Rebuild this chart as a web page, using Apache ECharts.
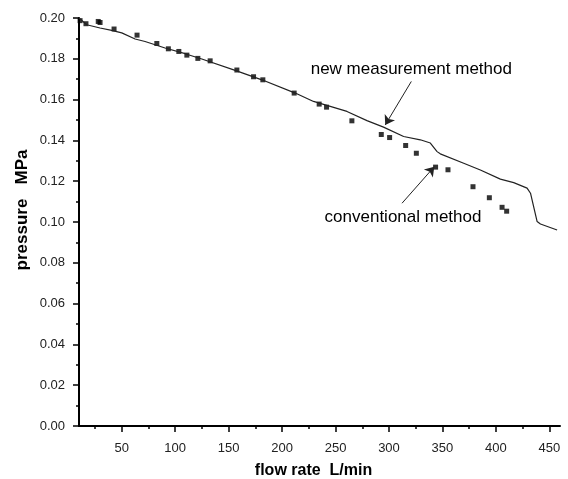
<!DOCTYPE html>
<html>
<head>
<meta charset="utf-8">
<script src="https://cdn.jsdelivr.net/npm/echarts@6/dist/echarts.min.js"></script>
<style>html,body{margin:0;padding:0;background:#fff}#c{width:568px;height:479px}</style>
</head>
<body>
<div id="c"></div>
<script>
// flow rate (L/min), pressure (MPa)
const newMethodFlow = [10, 17.2, 29.7, 40.6, 50, 62.5, 71.8, 81.2, 90.5, 109.3, 124.9, 156.1, 181.1, 212.3, 229.4, 260.7, 279.4, 294.9, 313.7, 329.3, 338.7, 345, 348, 369.9, 385.5, 404.2, 416.7, 429.2, 432.4, 438.6, 441.7, 457.3];
const newMethodPressure = [0.2000, 0.1967, 0.1951, 0.1939, 0.1927, 0.1897, 0.1885, 0.1869, 0.1853, 0.1825, 0.1799, 0.1743, 0.1697, 0.1632, 0.1591, 0.1542, 0.1497, 0.1465, 0.1419, 0.1403, 0.1387, 0.1345, 0.1334, 0.1288, 0.1255, 0.1210, 0.1193, 0.1166, 0.1141, 0.1002, 0.0990, 0.0961];
const convFlow = [11, 16.5, 28, 29.7, 42.8, 64.3, 82.8, 93.6, 103.4, 110.9, 121.2, 132.7, 157.7, 173.3, 182.0, 211.3, 234.7, 241.6, 265.3, 292.8, 300.6, 315.6, 325.6, 343.6, 355.2, 378.6, 393.9, 405.8, 410.1];
const convPressure = [0.1987, 0.1972, 0.1983, 0.1978, 0.1946, 0.1916, 0.1875, 0.1849, 0.1836, 0.1818, 0.1802, 0.1790, 0.1745, 0.1712, 0.1697, 0.1632, 0.1578, 0.1563, 0.1496, 0.1429, 0.1414, 0.1375, 0.1337, 0.1269, 0.1256, 0.1173, 0.1119, 0.1072, 0.1053];
const xTickLabels = [50, 100, 150, 200, 250, 300, 350, 400, 450];
const xMinorTicks = [25, 75, 125, 175, 225, 275, 325, 375, 425];
const annotNew = {text: 'new measurement method', from: [320.9, 0.1689], to: [296.5, 0.1476]};
const annotConv = {text: 'conventional method', from: [312.2, 0.1092], to: [342.4, 0.1271]};

const chart = echarts.init(document.getElementById('c'), null, {renderer: 'canvas'});
const tickFont = {fontFamily: 'Liberation Sans, Arial, sans-serif', fontSize: 13, color: '#222'};
const nameFont = {fontFamily: 'Liberation Sans, Arial, sans-serif', fontSize: 16, fontWeight: 'bold', color: '#000'};

chart.setOption({
  animation: false,
  backgroundColor: '#fff',
  grid: {left: 79, right: 8, top: 18, bottom: 53, outerBoundsMode: 'none', containLabel: false},
  xAxis: [{
    type: 'value', min: 10, max: 460,
    name: 'flow rate  L/min', nameLocation: 'middle', nameGap: 37,
    nameTextStyle: Object.assign({padding: [0, 12, 0, 0]}, nameFont),
    axisLine: {show: true, lineStyle: {color: '#000', width: 2}},
    axisTick: {show: true, customValues: xTickLabels, length: 6, lineStyle: {color: '#000', width: 1.5}},
    axisLabel: Object.assign({customValues: xTickLabels, margin: 16}, tickFont),
    splitLine: {show: false}
  }, {
    type: 'value', min: 10, max: 460, position: 'bottom',
    axisLine: {show: false},
    axisTick: {show: true, customValues: xMinorTicks, length: 3, lineStyle: {color: '#000', width: 1.5}},
    axisLabel: {show: false},
    splitLine: {show: false}
  }],
  yAxis: {
    type: 'value', min: 0, max: 0.2, interval: 0.02,
    name: 'pressure   MPa', nameLocation: 'middle', nameGap: 48, nameRotate: 90, nameMoveOverlap: false,
    nameTextStyle: Object.assign({}, nameFont, {fontSize: 17, padding: [0, 0, 0, 24]}),
    axisLine: {show: true, lineStyle: {color: '#000', width: 2}},
    axisTick: {show: true, length: 6, lineStyle: {color: '#000', width: 1.5}},
    minorTick: {show: true, splitNumber: 2, length: 3, lineStyle: {color: '#000', width: 1.5}},
    axisLabel: Object.assign({margin: 14, formatter: v => v.toFixed(2)}, tickFont),
    splitLine: {show: false}
  },
  series: [{
    type: 'line', name: 'new measurement method',
    data: newMethodFlow.map((x, i) => [x, newMethodPressure[i]]),
    showSymbol: false, symbol: 'none',
    lineStyle: {color: '#222', width: 1.2},
    markLine: {
      silent: true, symbol: ['none', 'arrow'], symbolSize: 9,
      lineStyle: {color: '#222', width: 1, type: 'solid'},
      label: {show: false},
      data: [
        [{coord: annotNew.from}, {coord: annotNew.to}],
        [{coord: annotConv.from}, {coord: annotConv.to}]
      ]
    }
  }, {
    type: 'scatter', name: 'conventional method',
    data: convFlow.map((x, i) => [x, convPressure[i]]),
    symbol: 'rect', symbolSize: 5,
    itemStyle: {color: '#000'}
  }],
  graphic: []
});

const p1 = chart.convertToPixel({gridIndex: 0}, annotNew.from);
const p2 = chart.convertToPixel({gridIndex: 0}, annotConv.from);
chart.setOption({
  graphic: [
    {type: 'text', x: p1[0], y: p1[1] - 12, style: {text: annotNew.text, font: '17px Liberation Sans, Arial, sans-serif', fill: '#000', textAlign: 'center', textVerticalAlign: 'middle'}},
    {type: 'text', x: p2[0] + 1, y: p2[1] + 14, style: {text: annotConv.text, font: '17px Liberation Sans, Arial, sans-serif', fill: '#000', textAlign: 'center', textVerticalAlign: 'middle'}}
  ]
});
</script>
</body>
</html>
